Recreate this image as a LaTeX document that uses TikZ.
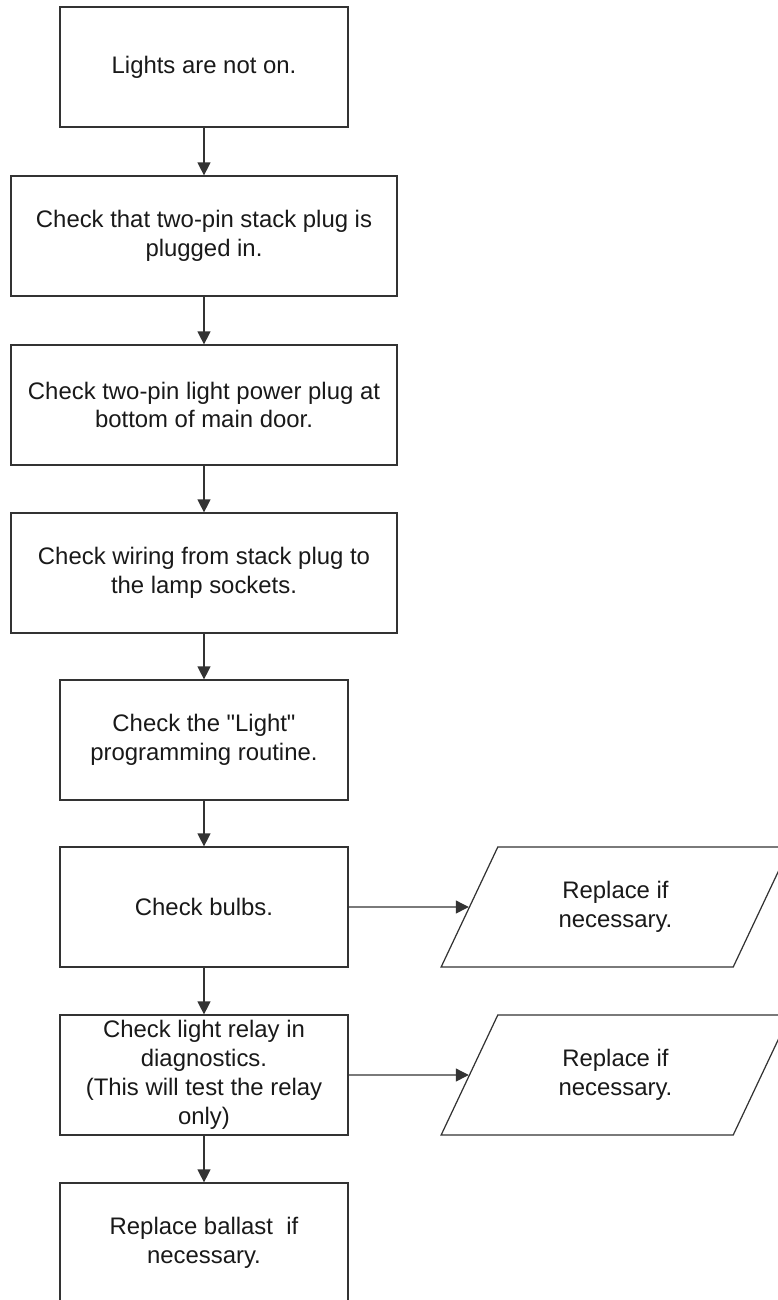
\documentclass[tikz,border=0pt]{standalone}
\usepackage{fontspec}
\setmainfont{Liberation Sans}[Ligatures=TeXOff]
\usetikzlibrary{arrows.meta, shapes.geometric}

\begin{document}
\begin{tikzpicture}[
    stepbox/.style={draw=black!80, line width=0.7pt, text=black!90, align=center,
      minimum width=5.76cm, minimum height=2.4cm, inner sep=2pt,
      font=\fontsize{13.6pt}{16.4pt}\selectfont},
    widebox/.style={stepbox, minimum width=7.72cm},
    actbox/.style={stepbox, shape=trapezium, trapezium left angle=63.43,
      trapezium right angle=116.57, trapezium stretches, minimum width=6.98cm},
    flow/.style={draw=black!80, line width=0.7pt, -{Triangle[width=7.4pt, length=7.4pt]}}
  ]
    \clip (0,0) rectangle (15.56,-26);
    \node[stepbox] (lights) at (4.08,-1.34) {Lights are not on.};
    \node[widebox] (stack) at (4.08,-4.72) {Check that two-pin stack plug is\\plugged in.};
    \node[widebox] (power) at (4.08,-8.10) {Check two-pin light power plug at\\bottom of main door.};
    \node[widebox] (wiring) at (4.08,-11.46) {Check wiring from stack plug to\\the lamp sockets.};
    \node[stepbox] (routine) at (4.08,-14.80) {Check the "Light"\\programming routine.};
    \node[stepbox] (bulbs) at (4.08,-18.14) {Check bulbs.};
    \node[stepbox] (relay) at (4.08,-21.50) {Check light relay in\\diagnostics.\\(This will test the relay\\only)};
    \node[stepbox] (ballast) at (4.08,-24.86) {Replace ballast\ \ if\\necessary.};
    \node[actbox] (bulbsfix) at (12.31,-18.14) {Replace if\\necessary.};
    \node[actbox] (relayfix) at (12.31,-21.50) {Replace if\\necessary.};
    % down the chain
    \draw[flow] (lights) -- (stack);
    \draw[flow] (stack) -- (power);
    \draw[flow] (power) -- (wiring);
    \draw[flow] (wiring) -- (routine);
    \draw[flow] (routine) -- (bulbs);
    \draw[flow] (bulbs) -- (relay);
    \draw[flow] (relay) -- (ballast);
    % side actions
    \draw[flow] (bulbs) -- (bulbsfix);
    \draw[flow] (relay) -- (relayfix);
\end{tikzpicture}
\end{document}
